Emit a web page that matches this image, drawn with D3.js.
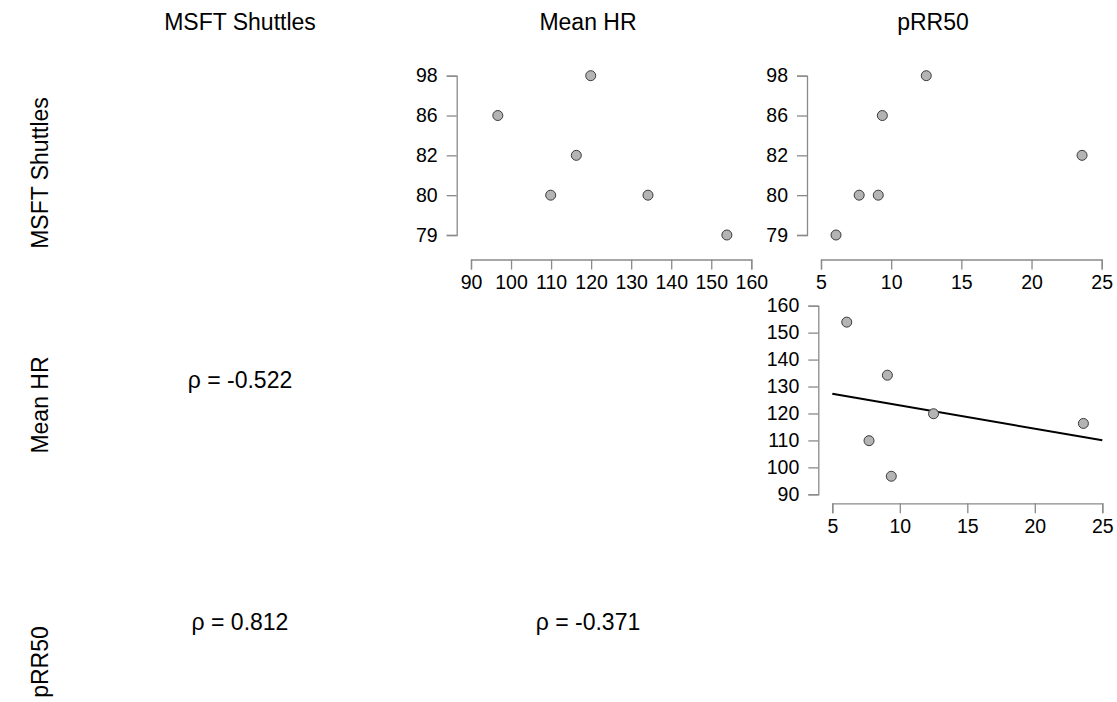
<!DOCTYPE html>
<html>
<head>
<meta charset="utf-8">
<script src="https://cdn.jsdelivr.net/npm/d3@7"></script>
<style>
  body { margin: 0; background: #fff; }
  svg { font-family: "Liberation Sans", Arial, Helvetica, sans-serif; }
  .axis path, .axis line { stroke: #8a8a8a; stroke-width: 1.3; }
  .axis text { fill: #000; }
</style>
</head>
<body>
<svg width="1117" height="702"></svg>
<script>
// variable names (columns / rows of the matrix)
var variables = ["MSFT Shuttles", "Mean HR", "pRR50"];

// observations
var msft   = [86, 98, 82, 80, 80, 79];
var meanHR = [96.7, 119.9, 116.3, 109.9, 134.2, 153.9];
var pRR50  = [9.37, 12.5, 23.6, 7.72, 9.08, 6.07];

// tick labels
var msftLevels = [79, 80, 82, 86, 98];
var hrTicks  = [90, 100, 110, 120, 130, 140, 150, 160];
var pRRTicks = [5, 10, 15, 20, 25];

// spearman rho, lower triangle
var rhoValues = ["-0.522", "0.812", "-0.371"];
var rhoCells  = [[1, 0], [2, 0], [2, 1]];

var svg = d3.select("svg");

// headers
var colCenters = [240, 588, 933];
var rowCenters = [173, 405, 662];
svg.selectAll("text.colhead").data(variables).enter().append("text")
  .attr("class", "colhead")
  .attr("x", function(d, i) { return colCenters[i]; })
  .attr("y", 30)
  .attr("text-anchor", "middle")
  .attr("font-size", 23)
  .text(function(d) { return d; });

svg.selectAll("text.rowhead").data(variables).enter().append("text")
  .attr("class", "rowhead")
  .attr("transform", function(d, i) { return "translate(48," + rowCenters[i] + ") rotate(-90)"; })
  .attr("text-anchor", "middle")
  .attr("font-size", 23)
  .text(function(d) { return d; });

// rho labels
var rhoPos = { "1,0": [240, 388], "2,0": [240, 630], "2,1": [588, 630] };
svg.selectAll("text.rho").data(rhoValues).enter().append("text")
  .attr("class", "rho")
  .attr("x", function(d, i) { return rhoPos[rhoCells[i].join(",")][0]; })
  .attr("y", function(d, i) { return rhoPos[rhoCells[i].join(",")][1]; })
  .attr("text-anchor", "middle")
  .attr("font-size", 23)
  .text(function(d) { return "\u03c1 = " + d; });

// one scatter panel
var panel = function(xs, ys, xScale, yScale, xTicks, yTicks, xAxisY, yAxisX, fit) {
  var g = svg.append("g");

  g.append("g").attr("class", "axis")
    .attr("transform", "translate(0," + xAxisY + ")")
    .call(d3.axisBottom(xScale).tickValues(xTicks).tickSizeOuter(0).tickSize(10).tickPadding(6));

  g.append("g").attr("class", "axis")
    .attr("transform", "translate(" + yAxisX + ",0)")
    .call(d3.axisLeft(yScale).tickValues(yTicks).tickSizeOuter(0).tickSize(10).tickPadding(9));

  g.selectAll(".axis").attr("font-family", null).attr("font-size", 19.5);

  if (fit) {
    var mx = d3.mean(xs), my = d3.mean(ys);
    var sxy = d3.sum(xs, function(x, i) { return (x - mx) * (ys[i] - my); });
    var sxx = d3.sum(xs, function(x) { return (x - mx) * (x - mx); });
    var b = sxy / sxx, a = my - b * mx;
    var dom = xScale.domain();
    g.append("line")
      .attr("x1", xScale(dom[0])).attr("y1", yScale(a + b * dom[0]))
      .attr("x2", xScale(dom[1])).attr("y2", yScale(a + b * dom[1]))
      .attr("stroke", "#000").attr("stroke-width", 2);
  }

  g.selectAll("circle").data(xs).enter().append("circle")
    .attr("cx", function(d) { return xScale(d); })
    .attr("cy", function(d, i) { return yScale(ys[i]); })
    .attr("r", 5)
    .attr("fill", "#b4b4b4")
    .attr("stroke", "#3a3a3a")
    .attr("stroke-width", 1);
};

// MSFT (y) vs Mean HR (x)
var yMsft = d3.scalePoint().domain(msftLevels).range([235, 75.7]);
panel(meanHR, msft, d3.scaleLinear().domain([90, 160]).range([471, 751.3]),
      yMsft, hrTicks, msftLevels, 259.5, 456.7, false);

// MSFT (y) vs pRR50 (x)
panel(pRR50, msft, d3.scaleLinear().domain([5, 25]).range([821, 1101.7]),
      yMsft, pRRTicks, msftLevels, 259.5, 807, false);

// Mean HR (y) vs pRR50 (x)
panel(pRR50, meanHR, d3.scaleLinear().domain([5, 25]).range([832.3, 1102.3]),
      d3.scaleLinear().domain([90, 160]).range([494.3, 305.7]),
      pRRTicks, hrTicks, 503.3, 818.3, true);
</script>
</body>
</html>
